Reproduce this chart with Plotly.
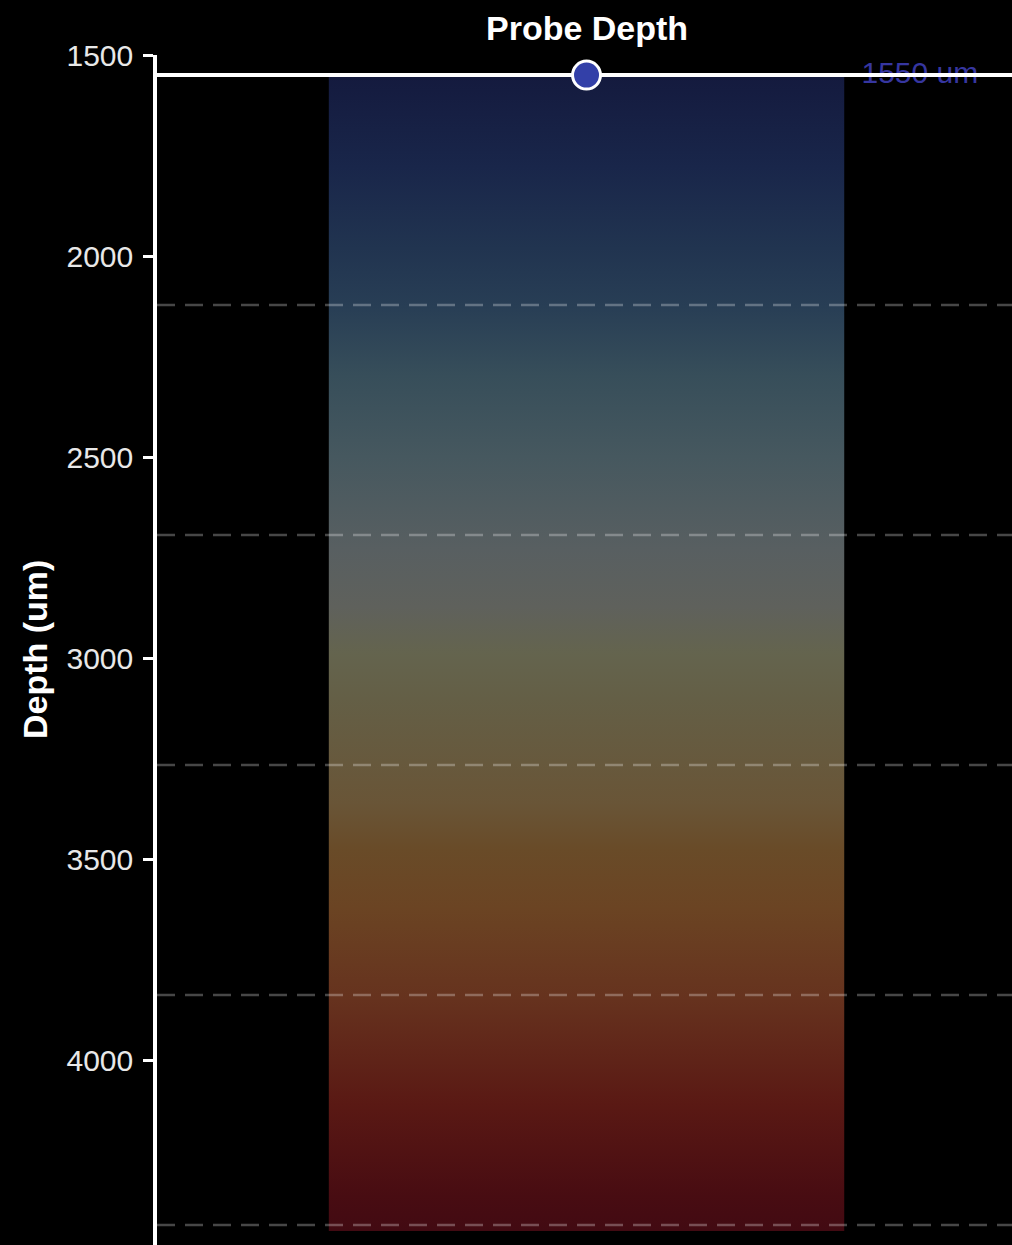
import plotly.graph_objects as go

# ---- data ----
probe_depth = 1550            # um, current probe position
probe_label = "1550 um"
column_top = 1550             # um, top of the recorded column
column_bottom = 4425          # um, bottom of the recorded column
layer_boundaries = [2122, 2694, 3266, 3838, 4410]   # um
y_tick_values = [1500, 2000, 2500, 3000, 3500, 4000]
y_range = [4460, 1500]

# colour gradient of the column (fraction of column height -> colour)
gradient_stops = [0.0, 0.08, 0.15, 0.20, 0.26, 0.33, 0.41, 0.46, 0.50,
                  0.54, 0.63, 0.67, 0.72, 0.80, 0.89, 0.97, 1.0]
gradient_colors = ["#141a3e", "#19264a", "#213450", "#283e55", "#374e5a",
                   "#46585f", "#585f61", "#5f615c", "#64644e", "#645f46",
                   "#695537", "#694b28", "#6b4423", "#66321e", "#5a1914",
                   "#480c12", "#420a12"]

FONT = "Liberation Sans, Arial, sans-serif"

fig = go.Figure()

# gradient column
fig.add_trace(go.Scatter(
    x=[0.2, 0.8, 0.8, 0.2, 0.2],
    y=[column_top, column_top, column_bottom, column_bottom, column_top],
    mode="lines", line=dict(width=0), fill="toself",
    fillgradient=dict(type="vertical", start=column_top, stop=column_bottom,
                      colorscale=[[s, c] for s, c in zip(gradient_stops, gradient_colors)]),
    hoverinfo="skip", showlegend=False))

# depth label (under the probe line)
fig.add_trace(go.Scatter(
    x=[0.888], y=[probe_depth], mode="text", text=[probe_label],
    textfont=dict(family=FONT, size=30, color="#3636a0"),
    textposition="middle center", hoverinfo="skip", showlegend=False))

# probe line
fig.add_trace(go.Scatter(
    x=[0, 1], y=[probe_depth, probe_depth], mode="lines",
    line=dict(color="white", width=4), hoverinfo="skip", showlegend=False))

# probe marker
fig.add_trace(go.Scatter(
    x=[0.5], y=[probe_depth], mode="markers",
    marker=dict(size=28, color="#3340a8", line=dict(color="white", width=3)),
    hoverinfo="skip", showlegend=False))

# layer boundaries
for b in layer_boundaries:
    fig.add_shape(type="line", xref="paper", x0=0, x1=1, yref="y", y0=b, y1=b,
                  line=dict(color="rgba(255,255,255,0.28)", width=2.5, dash="18px,10px"),
                  layer="above")

fig.add_annotation(text="<b>Probe Depth</b>", xref="x", x=0.5, yref="paper", y=1.0227,
                   yanchor="middle", showarrow=False,
                   font=dict(family=FONT, size=34, color="white"))
fig.add_annotation(text="<b>Depth (um)</b>", xref="paper", x=0, xshift=-122, xanchor="center",
                   yref="paper", y=0.5, yanchor="middle", textangle=-90, showarrow=False,
                   font=dict(family=FONT, size=34, color="white"))

fig.update_xaxes(visible=False, range=[0, 0.9953])
fig.update_yaxes(range=y_range, tickvals=y_tick_values, ticks="outside", ticklen=10,
                 tickwidth=3, tickcolor="white", showline=True, linewidth=3.5,
                 linecolor="white", showgrid=False, zeroline=False, ticklabelstandoff=4,
                 tickfont=dict(family=FONT, size=30, color="#e8e8e8"))

fig.update_layout(width=1012, height=1245, paper_bgcolor="black", plot_bgcolor="black",
                  margin=dict(l=157, r=0, t=55, b=0), showlegend=False)

fig.write_html("out.html", config={"displayModeBar": False},
               post_script="document.body.style.margin='0';document.body.style.background='black';")
